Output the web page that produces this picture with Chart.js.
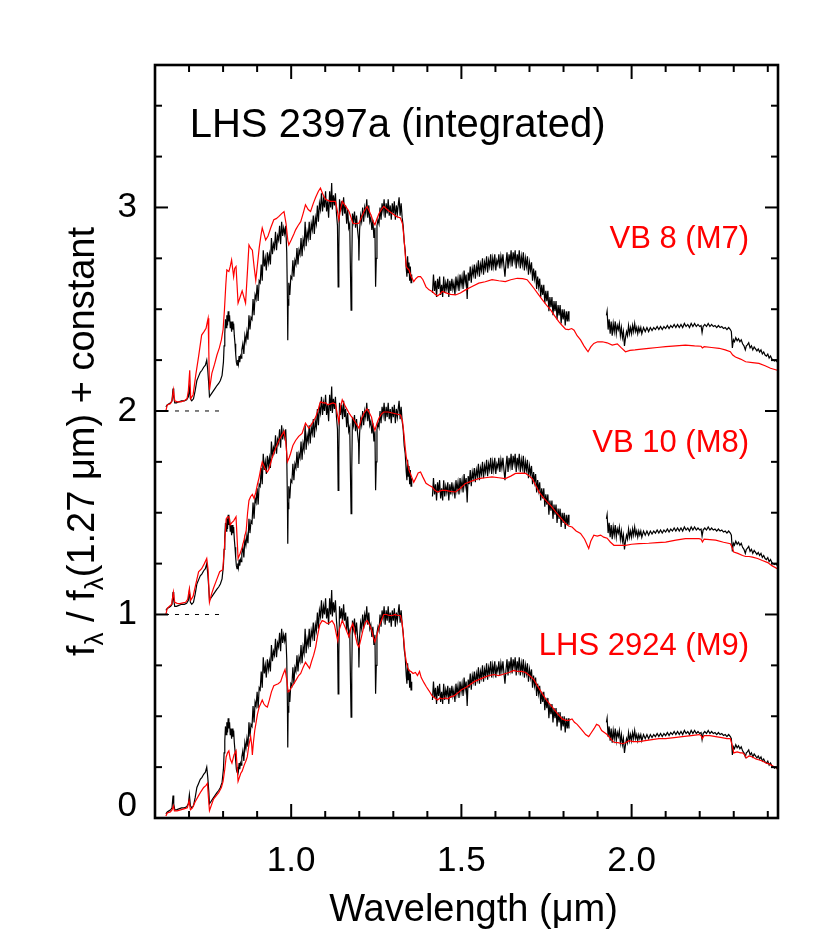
<!DOCTYPE html>
<html>
<head>
<meta charset="utf-8">
<script src="https://cdn.jsdelivr.net/npm/chart.js@4.4.1/dist/chart.umd.min.js"></script>
<style>
  html, body { margin: 0; padding: 0; background: #fff; }
  canvas { display: block; }
</style>
</head>
<body>
<canvas id="spec" width="830" height="949"></canvas>
<script>
// LHS 2397a spectrum, normalised at 1.27 um, [wavelength (um), flux]. Three pieces (telluric gaps).
const blackOptJ = [
  [0.632,0.02],[0.636,0.03],[0.641,0.035],[0.646,0.04],[0.650,0.05],[0.653,0.11],[0.655,0.07],[0.658,0.04],
  [0.663,0.04],[0.670,0.045],[0.678,0.05],[0.686,0.05],[0.693,0.055],[0.698,0.07],[0.701,0.115],[0.704,0.06],
  [0.708,0.05],[0.713,0.06],[0.718,0.10],[0.723,0.15],[0.728,0.17],[0.733,0.19],[0.738,0.20],[0.743,0.215],
  [0.748,0.225],[0.752,0.25],[0.755,0.20],[0.758,0.13],[0.760,0.07],[0.764,0.08],[0.770,0.095],[0.776,0.11],
  [0.782,0.125],[0.787,0.135],[0.792,0.15],[0.797,0.175],[0.801,0.24],[0.803,0.32],[0.805,0.38],[0.807,0.45],
  [0.809,0.41],[0.811,0.47],[0.813,0.42],[0.815,0.49],[0.817,0.44],[0.819,0.47],[0.821,0.41],[0.823,0.44],
  [0.825,0.39],[0.827,0.44],[0.829,0.40],[0.831,0.43],[0.833,0.37],[0.835,0.33],[0.837,0.28],[0.839,0.24],
  [0.841,0.225],[0.843,0.25],[0.845,0.23],[0.847,0.27],[0.849,0.24],[0.851,0.27],[0.853,0.26],[0.855,0.30],
  [0.858,0.33],[0.861,0.28],[0.864,0.37],[0.867,0.34],[0.870,0.39],[0.873,0.35],[0.876,0.47],[0.879,0.40],
  [0.882,0.46],[0.885,0.45],[0.888,0.55],[0.891,0.47],[0.894,0.57],[0.897,0.55],[0.900,0.62],[0.903,0.54],
  [0.906,0.64],[0.909,0.63],[0.912,0.72],[0.915,0.64],[0.918,0.79],[0.921,0.71],[0.924,0.75],[0.927,0.69],
  [0.930,0.78],[0.933,0.73],[0.936,0.77],[0.939,0.72],[0.942,0.85],[0.945,0.77],[0.948,0.82],[0.951,0.80],
  [0.954,0.88],[0.957,0.79],[0.960,0.86],[0.963,0.84],[0.966,0.91],[0.969,0.82],[0.972,0.93],[0.975,0.86],
  [0.978,0.90],[0.981,0.87],[0.984,0.91],[0.987,0.78],[0.989,0.55],[0.990,0.347],[0.991,0.52],[0.993,0.63],
  [0.996,0.57],[0.999,0.66],[1.002,0.65],[1.005,0.74],[1.008,0.66],[1.011,0.74],[1.014,0.72],[1.017,0.80],
  [1.020,0.72],[1.023,0.79],[1.026,0.77],[1.029,0.85],[1.032,0.76],[1.035,0.84],[1.038,0.81],[1.041,0.93],
  [1.044,0.81],[1.047,0.88],[1.050,0.85],[1.053,0.93],[1.056,0.84],[1.059,0.92],[1.062,0.89],[1.065,0.96],
  [1.068,0.87],[1.071,0.95],[1.074,0.92],[1.077,1.01],[1.080,0.93],[1.083,1.02],[1.086,0.99],[1.089,1.07],
  [1.092,0.98],[1.095,1.04],[1.098,1.00],[1.101,1.08],[1.104,0.98],[1.107,1.03],[1.110,0.95],[1.113,1.08],
  [1.116,1.00],[1.119,1.12],[1.121,0.99],[1.124,1.06],[1.127,1.01],[1.130,1.07],[1.133,0.97],[1.136,0.91],
  [1.138,0.61],[1.140,0.80],[1.142,1.04],[1.145,0.98],[1.148,1.03],[1.151,0.96],[1.154,1.05],[1.157,0.97],
  [1.160,1.01],[1.163,0.92],[1.166,0.99],[1.169,0.90],[1.172,0.92],[1.174,0.70],[1.176,0.495],[1.178,0.72],
  [1.180,0.97],[1.183,0.93],[1.186,0.98],[1.189,0.90],[1.192,0.96],[1.195,0.89],[1.198,0.84],[1.199,0.74],
  [1.201,0.89],[1.204,0.96],[1.207,0.93],[1.210,1.00],[1.213,0.93],[1.216,1.00],[1.219,0.97],[1.222,1.04],
  [1.225,0.95],[1.228,1.01],[1.231,0.93],[1.234,0.95],[1.237,0.89],[1.240,0.94],[1.243,0.85],[1.246,0.90],
  [1.248,0.61],[1.250,0.75],[1.252,0.91],[1.255,0.94],[1.258,0.92],[1.261,1.00],[1.264,0.94],[1.267,1.02],
  [1.270,0.98],[1.273,1.04],[1.276,0.95],[1.279,1.02],[1.282,0.97],[1.285,1.04],[1.288,0.96],[1.291,1.01],
  [1.294,0.94],[1.297,1.02],[1.300,0.97],[1.303,1.03],[1.306,0.94],[1.309,1.01],[1.312,0.97],[1.315,1.02],
  [1.317,1.05],[1.320,0.96],[1.323,1.02],[1.326,0.95],[1.329,0.91],[1.332,0.83],[1.335,0.79],[1.338,0.70],
  [1.340,0.66],[1.342,0.76],[1.344,0.68],[1.346,0.73],[1.348,0.64],[1.350,0.71],[1.352,0.63],[1.354,0.67]
];
const blackH = [
  [1.415,0.58],[1.418,0.67],[1.421,0.59],[1.424,0.64],[1.427,0.56],[1.430,0.65],[1.433,0.60],[1.436,0.66],
  [1.439,0.57],[1.442,0.62],[1.445,0.56],[1.448,0.66],[1.451,0.58],[1.454,0.63],[1.457,0.60],[1.460,0.65],
  [1.463,0.56],[1.466,0.64],[1.469,0.59],[1.472,0.65],[1.475,0.60],[1.478,0.63],[1.481,0.57],[1.484,0.66],
  [1.487,0.61],[1.490,0.65],[1.493,0.59],[1.496,0.67],[1.499,0.62],[1.502,0.66],[1.505,0.60],[1.508,0.69],
  [1.511,0.63],[1.514,0.67],[1.517,0.55],[1.520,0.68],[1.523,0.64],[1.526,0.71],[1.529,0.63],[1.532,0.70],
  [1.535,0.67],[1.538,0.72],[1.541,0.65],[1.544,0.71],[1.547,0.68],[1.550,0.74],[1.553,0.66],[1.556,0.72],
  [1.559,0.69],[1.562,0.75],[1.565,0.67],[1.568,0.73],[1.571,0.70],[1.574,0.76],[1.577,0.68],[1.580,0.74],
  [1.583,0.71],[1.586,0.77],[1.589,0.69],[1.592,0.75],[1.595,0.71],[1.598,0.77],[1.601,0.69],[1.604,0.74],
  [1.607,0.72],[1.610,0.77],[1.613,0.70],[1.616,0.76],[1.619,0.72],[1.622,0.77],[1.625,0.71],[1.628,0.66],
  [1.631,0.73],[1.634,0.78],[1.637,0.70],[1.640,0.77],[1.643,0.73],[1.646,0.79],[1.649,0.71],[1.652,0.78],
  [1.655,0.74],[1.658,0.79],[1.661,0.70],[1.664,0.77],[1.667,0.73],[1.670,0.79],[1.673,0.70],[1.676,0.76],
  [1.679,0.72],[1.682,0.78],[1.685,0.69],[1.688,0.75],[1.691,0.71],[1.694,0.76],[1.697,0.67],[1.700,0.73],
  [1.703,0.69],[1.706,0.73],[1.709,0.64],[1.712,0.70],[1.715,0.65],[1.718,0.69],[1.721,0.60],[1.724,0.66],
  [1.727,0.61],[1.730,0.65],[1.733,0.56],[1.736,0.62],[1.739,0.57],[1.742,0.62],[1.745,0.53],[1.748,0.59],
  [1.751,0.54],[1.754,0.59],[1.757,0.49],[1.760,0.56],[1.763,0.51],[1.766,0.56],[1.769,0.47],[1.772,0.54],
  [1.775,0.49],[1.778,0.54],[1.781,0.45],[1.784,0.52],[1.787,0.47],[1.790,0.52],[1.793,0.43],[1.796,0.50],
  [1.799,0.45],[1.802,0.50],[1.805,0.42],[1.808,0.49],[1.811,0.44],[1.814,0.49],[1.816,0.44]
];
const blackK = [
  [1.926,0.47],[1.928,0.49],[1.931,0.40],[1.934,0.45],[1.937,0.38],[1.940,0.44],[1.943,0.37],[1.946,0.43],
  [1.949,0.39],[1.952,0.44],[1.955,0.38],[1.958,0.42],[1.961,0.40],[1.964,0.43],[1.967,0.37],[1.970,0.41],
  [1.973,0.36],[1.976,0.39],[1.979,0.32],[1.982,0.36],[1.985,0.39],[1.988,0.37],[1.991,0.42],[1.994,0.38],
  [1.997,0.41],[2.000,0.38],[2.003,0.42],[2.006,0.39],[2.009,0.43],[2.012,0.39],[2.015,0.41],[2.018,0.38],
  [2.021,0.41],[2.024,0.39],[2.027,0.41],[2.030,0.38],[2.035,0.41],[2.040,0.39],[2.045,0.41],[2.050,0.39],
  [2.055,0.41],[2.060,0.395],[2.065,0.41],[2.070,0.40],[2.075,0.415],[2.080,0.40],[2.085,0.415],[2.090,0.40],
  [2.095,0.415],[2.100,0.405],[2.105,0.42],[2.110,0.405],[2.115,0.42],[2.120,0.41],[2.125,0.425],[2.130,0.41],
  [2.135,0.425],[2.140,0.41],[2.145,0.425],[2.150,0.41],[2.155,0.43],[2.160,0.415],[2.165,0.425],[2.170,0.41],
  [2.175,0.43],[2.180,0.415],[2.185,0.43],[2.190,0.415],[2.195,0.425],[2.200,0.415],[2.204,0.42],[2.207,0.385],
  [2.210,0.415],[2.215,0.425],[2.220,0.415],[2.225,0.43],[2.230,0.415],[2.235,0.425],[2.240,0.415],[2.245,0.42],
  [2.250,0.41],[2.255,0.42],[2.260,0.41],[2.265,0.415],[2.270,0.405],[2.275,0.41],[2.280,0.40],[2.285,0.41],
  [2.290,0.40],[2.293,0.39],[2.296,0.31],[2.299,0.35],[2.302,0.34],[2.306,0.36],[2.310,0.345],[2.314,0.355],
  [2.318,0.34],[2.322,0.35],[2.326,0.33],[2.330,0.32],[2.334,0.30],[2.337,0.32],[2.340,0.325],[2.344,0.335],
  [2.348,0.31],[2.352,0.32],[2.356,0.30],[2.360,0.315],[2.364,0.305],[2.368,0.295],[2.372,0.305],[2.376,0.29],
  [2.380,0.30],[2.384,0.28],[2.388,0.29],[2.392,0.275],[2.396,0.27],[2.400,0.28],[2.404,0.26],[2.408,0.27],
  [2.412,0.255],[2.416,0.25],[2.420,0.245],[2.424,0.25],[2.428,0.24]
];

// Comparison templates, [wavelength (um), flux]
const vb8 = [
  [0.632,0.0],[0.636,0.03],[0.645,0.035],[0.650,0.05],[0.654,0.103],[0.658,0.05],[0.666,0.045],[0.676,0.045],
  [0.686,0.05],[0.694,0.06],[0.698,0.10],[0.702,0.20],[0.705,0.06],[0.712,0.08],[0.720,0.18],[0.728,0.267],
  [0.737,0.373],[0.744,0.39],[0.750,0.406],[0.754,0.44],[0.756,0.455],[0.758,0.30],[0.760,0.103],[0.764,0.15],
  [0.767,0.185],[0.775,0.23],[0.782,0.275],[0.789,0.31],[0.795,0.349],[0.800,0.40],[0.804,0.497],[0.808,0.62],
  [0.811,0.693],[0.817,0.685],[0.821,0.71],[0.825,0.742],[0.828,0.70],[0.831,0.66],[0.834,0.70],[0.838,0.71],
  [0.841,0.62],[0.844,0.53],[0.850,0.56],[0.856,0.59],[0.861,0.56],[0.866,0.53],[0.871,0.67],[0.876,0.816],
  [0.881,0.80],[0.886,0.79],[0.891,0.71],[0.896,0.642],[0.901,0.72],[0.906,0.80],[0.911,0.86],[0.915,0.899],
  [0.920,0.87],[0.925,0.84],[0.932,0.86],[0.940,0.90],[0.949,0.94],[0.956,0.945],[0.964,0.956],[0.972,0.97],
  [0.979,0.98],[0.985,0.92],[0.990,0.84],[0.993,0.816],[1.000,0.84],[1.008,0.87],[1.013,0.89],[1.020,0.91],
  [1.028,0.93],[1.035,0.97],[1.042,1.013],[1.050,0.99],[1.057,0.98],[1.065,1.02],[1.072,1.05],[1.080,1.08],
  [1.086,1.095],[1.093,1.065],[1.101,1.04],[1.108,1.035],[1.115,1.03],[1.123,1.03],[1.130,1.03],[1.136,0.98],
  [1.140,0.94],[1.145,0.99],[1.150,1.03],[1.160,1.005],[1.170,0.98],[1.176,0.95],[1.181,0.923],[1.190,0.92],
  [1.199,0.923],[1.206,0.95],[1.214,0.98],[1.223,1.005],[1.230,0.98],[1.236,0.956],[1.241,0.93],[1.246,0.915],
  [1.252,0.945],[1.258,0.97],[1.265,0.99],[1.272,1.005],[1.285,0.985],[1.297,0.97],[1.310,0.955],[1.321,0.948],
  [1.327,0.92],[1.331,0.857],[1.335,0.77],[1.338,0.71],[1.342,0.70],[1.346,0.693],[1.353,0.66],[1.360,0.636],
  [1.366,0.65],[1.373,0.66],[1.380,0.66],[1.387,0.645],[1.396,0.61],[1.405,0.595],[1.414,0.587],[1.422,0.575],
  [1.430,0.565],[1.437,0.575],[1.444,0.587],[1.455,0.58],[1.468,0.573],[1.483,0.57],[1.497,0.58],[1.512,0.595],
  [1.530,0.61],[1.551,0.628],[1.570,0.635],[1.590,0.645],[1.610,0.64],[1.629,0.636],[1.645,0.645],[1.664,0.652],
  [1.680,0.65],[1.693,0.645],[1.703,0.625],[1.713,0.603],[1.725,0.575],[1.738,0.546],[1.750,0.52],[1.762,0.497],
  [1.775,0.465],[1.786,0.439],[1.796,0.42],[1.806,0.402],[1.815,0.40],[1.824,0.405],[1.831,0.397],[1.840,0.37],
  [1.850,0.349],[1.860,0.32],[1.868,0.30],[1.872,0.291],[1.880,0.315],[1.889,0.332],[1.900,0.34],[1.914,0.34],
  [1.928,0.335],[1.943,0.324],[1.958,0.33],[1.970,0.31],[1.982,0.291],[1.995,0.298],[2.010,0.30],[2.022,0.303],
  [2.050,0.308],[2.075,0.312],[2.100,0.316],[2.130,0.32],[2.158,0.324],[2.185,0.32],[2.204,0.318],[2.208,0.31],
  [2.213,0.316],[2.235,0.312],[2.257,0.308],[2.275,0.30],[2.290,0.291],[2.297,0.275],[2.305,0.265],[2.320,0.255],
  [2.335,0.242],[2.355,0.238],[2.374,0.234],[2.392,0.222],[2.408,0.21],[2.428,0.20]
];
const vb10 = [
  [0.632,0.0],[0.636,0.03],[0.642,0.04],[0.649,0.05],[0.654,0.11],[0.658,0.06],[0.665,0.055],[0.673,0.053],
  [0.682,0.057],[0.690,0.06],[0.696,0.075],[0.701,0.127],[0.705,0.07],[0.712,0.09],[0.720,0.15],[0.728,0.21],
  [0.737,0.225],[0.745,0.25],[0.752,0.275],[0.756,0.22],[0.760,0.06],[0.766,0.10],[0.772,0.13],[0.781,0.17],
  [0.790,0.21],[0.799,0.22],[0.804,0.33],[0.809,0.47],[0.813,0.48],[0.817,0.48],[0.821,0.44],[0.825,0.45],
  [0.831,0.46],[0.838,0.48],[0.841,0.38],[0.844,0.275],[0.850,0.30],[0.856,0.33],[0.862,0.37],[0.868,0.415],
  [0.872,0.50],[0.876,0.56],[0.881,0.58],[0.886,0.59],[0.891,0.57],[0.896,0.60],[0.901,0.64],[0.906,0.675],
  [0.911,0.72],[0.915,0.75],[0.920,0.73],[0.925,0.71],[0.930,0.70],[0.935,0.715],[0.944,0.77],[0.954,0.815],
  [0.964,0.855],[0.972,0.88],[0.979,0.90],[0.984,0.85],[0.989,0.75],[0.994,0.77],[0.998,0.79],[1.005,0.83],
  [1.013,0.855],[1.022,0.875],[1.032,0.89],[1.042,0.94],[1.052,0.915],[1.062,0.94],[1.072,0.97],[1.080,1.01],
  [1.086,1.045],[1.094,1.04],[1.101,1.04],[1.108,1.03],[1.115,1.035],[1.123,1.04],[1.130,1.035],[1.136,0.98],
  [1.140,0.945],[1.145,1.02],[1.150,1.055],[1.160,1.02],[1.170,0.99],[1.176,0.975],[1.181,0.965],[1.190,0.94],
  [1.199,0.915],[1.206,0.96],[1.214,0.99],[1.223,1.01],[1.230,0.99],[1.236,0.97],[1.241,0.93],[1.246,0.905],
  [1.252,0.94],[1.258,0.965],[1.265,0.985],[1.272,0.995],[1.285,0.995],[1.297,0.99],[1.310,0.985],[1.321,0.98],
  [1.327,0.95],[1.331,0.89],[1.335,0.82],[1.338,0.775],[1.342,0.74],[1.346,0.71],[1.353,0.68],[1.360,0.65],
  [1.366,0.67],[1.373,0.695],[1.380,0.70],[1.387,0.675],[1.396,0.645],[1.405,0.635],[1.414,0.627],[1.422,0.61],
  [1.430,0.602],[1.442,0.61],[1.454,0.61],[1.468,0.605],[1.483,0.602],[1.497,0.62],[1.512,0.644],[1.530,0.655],
  [1.551,0.668],[1.570,0.672],[1.590,0.676],[1.610,0.672],[1.629,0.668],[1.645,0.68],[1.659,0.693],[1.675,0.695],
  [1.689,0.693],[1.700,0.68],[1.708,0.668],[1.718,0.635],[1.728,0.602],[1.740,0.575],[1.752,0.553],[1.765,0.53],
  [1.777,0.504],[1.792,0.475],[1.806,0.447],[1.815,0.435],[1.825,0.43],[1.837,0.41],[1.850,0.398],[1.862,0.37],
  [1.874,0.324],[1.880,0.36],[1.889,0.39],[1.899,0.385],[1.909,0.39],[1.918,0.38],[1.928,0.375],[1.938,0.355],
  [1.948,0.34],[1.965,0.34],[1.982,0.34],[2.000,0.345],[2.022,0.348],[2.050,0.35],[2.075,0.353],[2.100,0.356],
  [2.130,0.365],[2.158,0.373],[2.180,0.373],[2.198,0.373],[2.204,0.37],[2.208,0.356],[2.213,0.37],[2.230,0.368],
  [2.247,0.365],[2.270,0.355],[2.290,0.348],[2.295,0.33],[2.300,0.307],[2.312,0.30],[2.326,0.29],[2.335,0.285],
  [2.345,0.285],[2.355,0.282],[2.370,0.275],[2.384,0.265],[2.400,0.255],[2.412,0.24],[2.428,0.225]
];
const lhs2924 = [
  [0.632,0.01],[0.636,0.025],[0.645,0.03],[0.650,0.04],[0.654,0.06],[0.657,0.035],[0.665,0.035],[0.675,0.04],
  [0.685,0.045],[0.695,0.05],[0.700,0.085],[0.704,0.04],[0.710,0.05],[0.718,0.08],[0.728,0.11],[0.735,0.13],
  [0.743,0.15],[0.750,0.16],[0.754,0.17],[0.757,0.10],[0.760,0.036],[0.765,0.06],[0.772,0.093],[0.780,0.11],
  [0.787,0.125],[0.795,0.15],[0.800,0.18],[0.805,0.24],[0.809,0.30],[0.813,0.32],[0.817,0.33],[0.821,0.29],
  [0.826,0.27],[0.832,0.31],[0.838,0.33],[0.841,0.26],[0.844,0.18],[0.848,0.20],[0.852,0.22],[0.856,0.23],
  [0.862,0.26],[0.867,0.28],[0.871,0.30],[0.876,0.36],[0.881,0.40],[0.884,0.36],[0.886,0.31],[0.889,0.37],
  [0.893,0.43],[0.896,0.46],[0.901,0.51],[0.906,0.545],[0.910,0.56],[0.915,0.58],[0.920,0.56],[0.925,0.55],
  [0.930,0.545],[0.936,0.58],[0.942,0.62],[0.949,0.65],[0.955,0.655],[0.962,0.66],[0.969,0.67],[0.975,0.70],
  [0.982,0.73],[0.987,0.68],[0.991,0.62],[0.995,0.625],[1.000,0.64],[1.008,0.66],[1.015,0.68],[1.022,0.70],
  [1.028,0.71],[1.035,0.74],[1.042,0.765],[1.048,0.75],[1.054,0.735],[1.060,0.77],[1.066,0.80],[1.072,0.84],
  [1.078,0.90],[1.084,0.95],[1.091,0.97],[1.098,0.965],[1.106,0.955],[1.113,0.96],[1.120,0.97],[1.127,0.95],
  [1.133,0.90],[1.137,0.87],[1.142,0.93],[1.150,0.97],[1.158,0.94],[1.165,0.91],[1.170,0.89],[1.175,0.93],
  [1.181,0.955],[1.188,0.90],[1.194,0.855],[1.199,0.84],[1.205,0.88],[1.212,0.93],[1.218,0.96],[1.223,0.97],
  [1.230,0.95],[1.236,0.925],[1.241,0.89],[1.246,0.865],[1.252,0.90],[1.258,0.94],[1.265,0.97],[1.272,1.00],
  [1.280,1.00],[1.288,0.995],[1.297,0.995],[1.305,1.00],[1.313,0.995],[1.321,0.995],[1.326,0.96],[1.331,0.87],
  [1.335,0.80],[1.338,0.77],[1.342,0.74],[1.346,0.725],[1.352,0.72],[1.358,0.71],[1.365,0.715],[1.371,0.70],
  [1.377,0.72],[1.382,0.69],[1.390,0.665],[1.397,0.645],[1.405,0.625],[1.414,0.60],[1.422,0.59],[1.430,0.58],
  [1.437,0.59],[1.444,0.585],[1.452,0.59],[1.460,0.585],[1.468,0.595],[1.478,0.60],[1.490,0.615],[1.500,0.63],
  [1.512,0.64],[1.525,0.655],[1.538,0.67],[1.551,0.68],[1.565,0.69],[1.581,0.70],[1.595,0.705],[1.610,0.70],
  [1.620,0.705],[1.630,0.71],[1.640,0.715],[1.654,0.725],[1.665,0.72],[1.677,0.72],[1.689,0.715],[1.700,0.70],
  [1.713,0.68],[1.725,0.645],[1.738,0.61],[1.752,0.575],[1.767,0.545],[1.781,0.515],[1.796,0.487],[1.806,0.48],
  [1.815,0.48],[1.825,0.487],[1.832,0.47],[1.840,0.46],[1.845,0.45],[1.855,0.43],[1.865,0.41],[1.874,0.40],
  [1.882,0.42],[1.890,0.44],[1.897,0.46],[1.904,0.455],[1.912,0.43],[1.920,0.42],[1.928,0.41],[1.938,0.39],
  [1.948,0.372],[1.960,0.37],[1.973,0.365],[1.982,0.37],[1.992,0.38],[2.005,0.375],[2.022,0.375],[2.040,0.38],
  [2.060,0.385],[2.080,0.39],[2.100,0.39],[2.125,0.395],[2.149,0.40],[2.175,0.405],[2.198,0.41],[2.204,0.405],
  [2.208,0.39],[2.213,0.405],[2.230,0.405],[2.247,0.40],[2.265,0.395],[2.280,0.39],[2.290,0.39],[2.295,0.36],
  [2.300,0.32],[2.310,0.325],[2.320,0.32],[2.326,0.32],[2.332,0.31],[2.337,0.295],[2.345,0.305],[2.355,0.30],
  [2.365,0.29],[2.375,0.285],[2.384,0.28],[2.395,0.27],[2.405,0.265],[2.415,0.255],[2.428,0.245]
];

const templateNames = ['VB 8 (M7)', 'VB 10 (M8)', 'LHS 2924 (M9)'];
const templates = [vb8, vb10, lhs2924];
const offsets = [2, 1, 0];
const zeroLineRange = [0.6, 0.8];

const xTickValues = [1.0, 1.5, 2.0];
const xMinorTicks = [0.7, 0.8, 0.9, 1.1, 1.2, 1.3, 1.4, 1.6, 1.7, 1.8, 1.9, 2.1, 2.2, 2.3, 2.4];
const yTickValues = [0, 1, 2, 3];
const yMinorTicks = [0.25, 0.5, 0.75, 1.25, 1.5, 1.75, 2.25, 2.5, 2.75, 3.25, 3.5];

const FONT = '"Liberation Sans", Arial, Helvetica, sans-serif';
const RED = '#ff0000';

const toXY = (pairs, off) => pairs.map(p => ({ x: p[0], y: p[1] + off }));

const datasets = [];
offsets.forEach((off, i) => {
    datasets.push({
        data: toXY(templates[i], off),
        borderColor: RED, borderWidth: 1.2, order: 0,
    });
    [blackOptJ, blackH, blackK].forEach(seg => datasets.push({
        data: toXY(seg, off),
        borderColor: '#000', borderWidth: 1.2, order: 1,
    }));
    if (off > 0) {
        datasets.push({
            data: zeroLineRange.map(w => ({ x: w, y: off })),
            borderColor: '#000', borderWidth: 1, borderDash: [4, 6], order: 2,
        });
    }
});

// frame, inward ticks on all four sides, and the text
const framePlugin = {
    id: 'frame',
    afterDatasetsDraw(chart) {
        const { ctx, chartArea: a, scales: { x, y } } = chart;
        ctx.save();
        ctx.strokeStyle = '#000';
        ctx.lineWidth = 2;
        const seg = (x0, y0, x1, y1) => { ctx.beginPath(); ctx.moveTo(x0, y0); ctx.lineTo(x1, y1); ctx.stroke(); };
        const xt = (v, len) => { const p = x.getPixelForValue(v); seg(p, a.bottom, p, a.bottom - len); seg(p, a.top, p, a.top + len); };
        const yt = (v, len) => { const p = y.getPixelForValue(v); seg(a.left, p, a.left + len, p); seg(a.right, p, a.right - len, p); };
        xTickValues.forEach(v => xt(v, 14));
        xMinorTicks.forEach(v => xt(v, 7));
        yTickValues.forEach(v => yt(v, 13));
        yMinorTicks.forEach(v => yt(v, 7));
        ctx.lineWidth = 2.6;
        ctx.strokeRect(a.left, a.top, a.right - a.left, a.bottom - a.top);

        ctx.fillStyle = '#000';
        ctx.textBaseline = 'alphabetic';
        ctx.textAlign = 'left';
        ctx.font = '40px ' + FONT;
        ctx.fillText('LHS 2397a (integrated)', x.getPixelForValue(0.702), y.getPixelForValue(3.348));

        ctx.fillStyle = RED;
        ctx.textAlign = 'right';
        ctx.font = '31px ' + FONT;
        templateNames.forEach((name, i) => {
            ctx.fillText(name, x.getPixelForValue(2.345), y.getPixelForValue(offsets[i] + 0.8));
        });

        // x title
        ctx.fillStyle = '#000';
        ctx.textAlign = 'center';
        ctx.font = '38px ' + FONT;
        ctx.fillText('Wavelength (μm)', (a.left + a.right) / 2 + 7, 921);

        // y title with subscript lambdas
        const parts = [['f', 0], ['λ', 1], [' / f', 0], ['λ', 1], ['(1.27 μm) + constant', 0]];
        ctx.textAlign = 'left';
        const fontFor = sub => (sub ? '26px ' : '38px ') + FONT;
        let total = 0;
        parts.forEach(([t, sub]) => { ctx.font = fontFor(sub); total += ctx.measureText(t).width; });
        ctx.translate(94, (a.top + a.bottom) / 2);
        ctx.rotate(-Math.PI / 2);
        let pos = -total / 2;
        parts.forEach(([t, sub]) => {
            ctx.font = fontFor(sub);
            ctx.fillText(t, pos, sub ? 9 : 0);
            pos += ctx.measureText(t).width;
        });
        ctx.restore();
    }
};

new Chart(document.getElementById('spec'), {
    type: 'line',
    data: { datasets },
    options: {
        responsive: false,
        animation: false,
        events: [],
        devicePixelRatio: 1,
        elements: { point: { radius: 0 }, line: { tension: 0 } },
        layout: { padding: { left: 0, right: 52, top: 65, bottom: 0 } },
        plugins: { legend: { display: false }, tooltip: { enabled: false } },
        scales: {
            x: {
                type: 'linear', min: 0.6, max: 2.43,
                grid: { display: false }, border: { display: false },
                afterFit: s => { s.height = 131; },
                afterBuildTicks: s => { s.ticks = xTickValues.map(v => ({ value: v })); },
                ticks: {
                    color: '#000', padding: 14, maxRotation: 0, autoSkip: false,
                    font: { family: FONT, size: 35 },
                    callback: v => v.toFixed(1),
                },
            },
            y: {
                type: 'linear', min: 0, max: 3.7,
                grid: { display: false }, border: { display: false },
                afterFit: s => { s.width = 155; },
                afterBuildTicks: s => { s.ticks = yTickValues.map(v => ({ value: v })); },
                ticks: {
                    color: '#000', padding: 10, autoSkip: false,
                    font: c => ({ family: FONT, size: 35, lineHeight: (c.tick && c.tick.value === 0) ? '24px' : 1.2 }),
                    callback: v => (v === 0 ? ['0', ''] : String(v)),
                },
            },
        },
    },
    plugins: [framePlugin],
});
</script>
</body>
</html>
